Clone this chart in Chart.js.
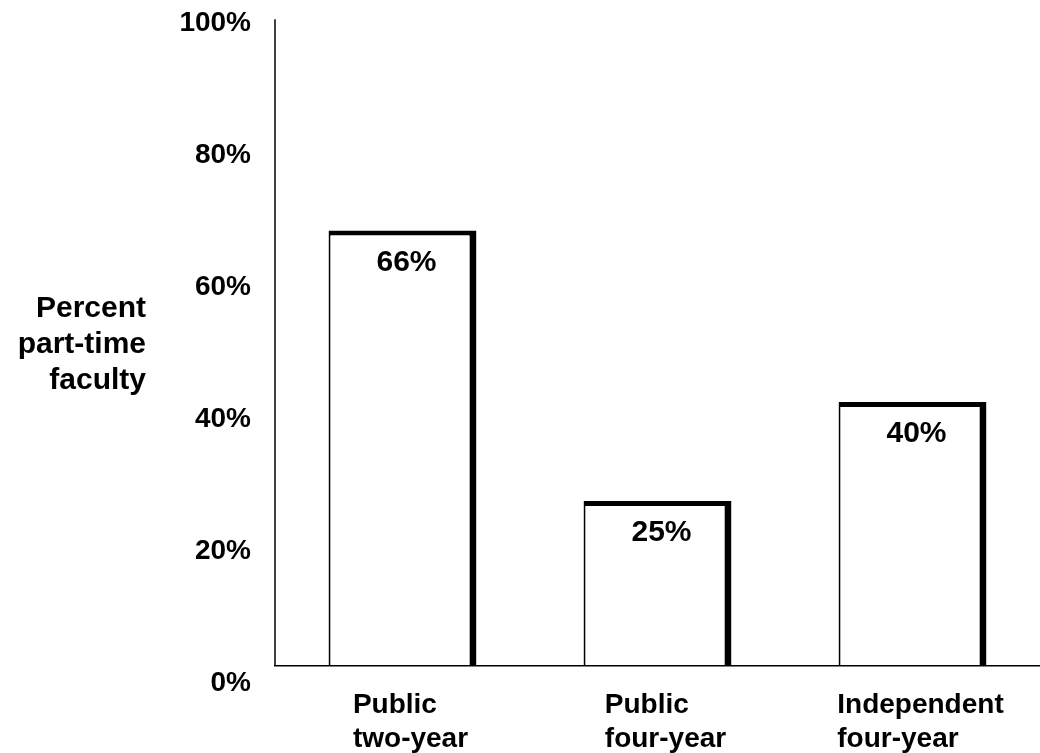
<!DOCTYPE html>
<html>
<head>
<meta charset="utf-8">
<script src="https://cdn.jsdelivr.net/npm/chart.js@4"></script>
<style>
  html, body { margin: 0; padding: 0; background: #fff; }
  #wrap { width: 1040px; height: 753px; }
</style>
</head>
<body>
<div id="wrap"><canvas id="facultyChart" width="1040" height="753"></canvas></div>
<script>
const categories = [['Public', 'two-year'], ['Public', 'four-year'], ['Independent', 'four-year']];
const partTimeShare = [66, 25, 40];
const yTickValues = [0, 20, 40, 60, 80, 100];
const yTitleLines = ['Percent', 'part-time', 'faculty'];

const FONT = '"Liberation Sans", Arial, Helvetica, sans-serif';

// bar value labels, x category labels and the y title are drawn by hand
const labelPlugin = {
    id: 'labelPlugin',
    afterDraw(chart) {
        const ctx = chart.ctx;
        const xScale = chart.scales.x;
        const yScale = chart.scales.y;
        ctx.save();
        ctx.fillStyle = '#000';

        // y axis line, stops a bit short of the top like the original
        ctx.strokeStyle = '#000';
        ctx.lineWidth = 1.5;
        ctx.beginPath();
        ctx.moveTo(yScale.right, yScale.getPixelForValue(98));
        ctx.lineTo(yScale.right, yScale.getPixelForValue(0));
        ctx.stroke();

        // value labels inside bars
        ctx.font = 'bold 30px ' + FONT;
        ctx.textAlign = 'center';
        ctx.textBaseline = 'middle';
        chart.getDatasetMeta(0).data.forEach((bar, i) => {
            ctx.fillText(partTimeShare[i] + '%', bar.x + 4, bar.y + 32);
        });

        // category labels: lines left-aligned, block centred under bar
        ctx.font = 'bold 28px ' + FONT;
        ctx.textAlign = 'left';
        ctx.textBaseline = 'alphabetic';
        categories.forEach((lines, i) => {
            const w = Math.max(...lines.map(l => ctx.measureText(l).width));
            const left = xScale.getPixelForValue(i) - w / 2 + 8;
            lines.forEach((line, j) => {
                ctx.fillText(line, left, 713 + j * 34);
            });
        });

        // y axis title
        ctx.font = 'bold 30px ' + FONT;
        ctx.textAlign = 'right';
        const baselines = [317, 353, 389];
        yTitleLines.forEach((line, j) => {
            ctx.fillText(line, 146, baselines[j]);
        });
        ctx.restore();
    }
};

const ctx = document.getElementById('facultyChart').getContext('2d');

new Chart(ctx, {
    type: 'bar',
    data: {
        labels: categories.map(c => c.join(' ')),
        datasets: [{
            data: partTimeShare,
            backgroundColor: '#ffffff',
            borderColor: '#000000',
            borderWidth: { top: 5, right: 7, bottom: 1, left: 2 },
            borderSkipped: false,
            barPercentage: 0.58,
            categoryPercentage: 1.0
        }]
    },
    options: {
        responsive: false,
        animation: false,
        layout: { padding: { top: 6, left: 0, right: 0, bottom: 0 } },
        plugins: {
            legend: { display: false },
            tooltip: { enabled: false }
        },
        scales: {
            x: {
                grid: { display: false, drawTicks: false },
                border: { display: true, color: '#000', width: 1.5 },
                ticks: { display: false },
                afterFit: (scale) => {
                    scale.height = 87;
                    scale.paddingLeft = 0;
                    scale.paddingRight = 0;
                }
            },
            y: {
                min: 0,
                max: 100,
                afterBuildTicks: (scale) => {
                    scale.ticks = yTickValues.map(v => ({ value: v }));
                },
                grid: { display: false, drawTicks: false },
                border: { display: false },
                ticks: {
                    color: '#000',
                    padding: 24,
                    labelOffset: 17,
                    font: { family: FONT, size: 28, weight: 'bold' },
                    callback: (v) => v + '%'
                },
                afterFit: (scale) => {
                    scale.width = 275;
                    scale.paddingTop = 0;
                    scale.paddingBottom = 0;
                }
            }
        }
    },
    plugins: [labelPlugin]
});
</script>
</body>
</html>
